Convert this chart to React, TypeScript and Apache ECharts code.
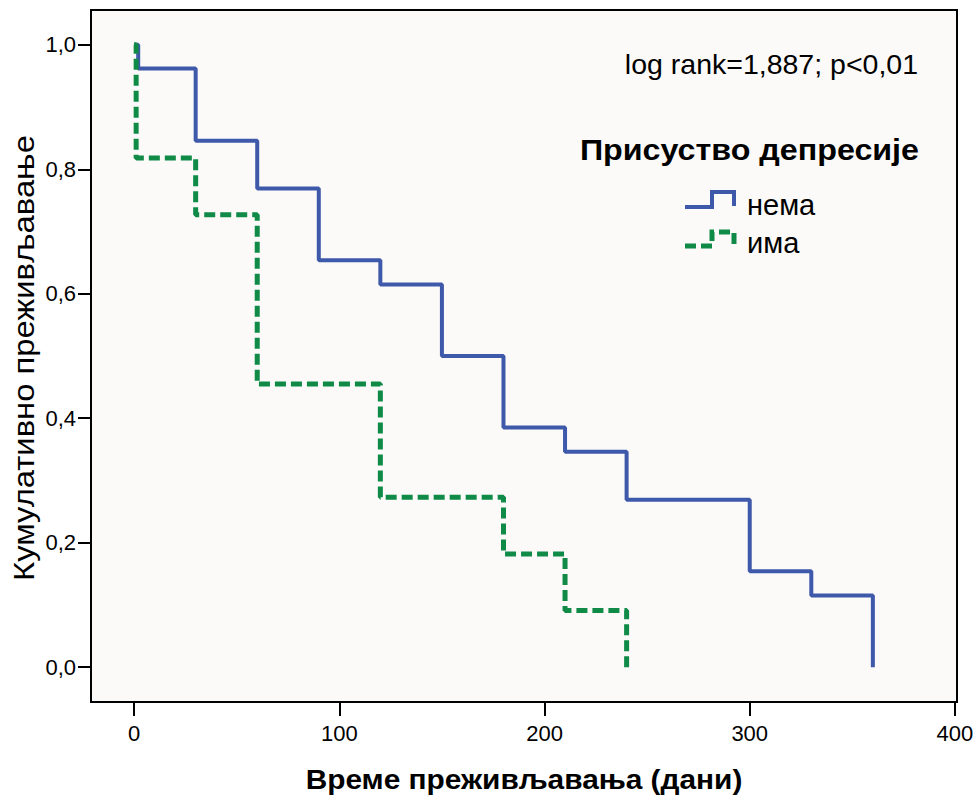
import React, { useEffect, useRef } from "react";
import * as echarts from "echarts";

// Kaplan–Meier survival estimates (time in days, cumulative survival)
const noneTimes = [0, 2, 30, 60, 90, 120, 150, 180, 210, 240, 300, 330, 360];
const noneSurvival = [1, 0.962, 0.846, 0.769, 0.654, 0.615, 0.5, 0.385, 0.346, 0.269, 0.154, 0.115, 0];

const presentTimes = [0, 1, 30, 60, 120, 180, 210, 240];
const presentSurvival = [1, 0.818, 0.727, 0.455, 0.273, 0.182, 0.091, 0];

const xTicks = [0, 100, 200, 300, 400];
const yTicks = [0, 0.2, 0.4, 0.6, 0.8, 1.0];

const groupNames = ["нема", "има"];
const legendTitle = "Присуство депресије";
const statText = "log rank=1,887; p<0,01";
const xTitle = "Време преживљавања (дани)";
const yTitle = "Кумулативно преживљавање";

const BLUE = "#3f59aa";
const GREEN = "#0f8a47";
const FONT = "'Liberation Sans', Arial, sans-serif";

export default function App() {
  const ref = useRef<HTMLDivElement>(null);

  useEffect(() => {
    if (!ref.current) return;
    const chart = echarts.init(ref.current, null, { renderer: "svg" });

    const pairs = (t: number[], v: number[]) => t.map((x, i) => [x, v[i]]);

    chart.setOption({
      animation: false,
      backgroundColor: "#ffffff",
      grid: {
        left: 91,
        top: 10,
        right: 22,
        bottom: 100,
        show: true,
        backgroundColor: "#fbfaf8",
        borderColor: "#000000",
        borderWidth: 2,
      },
      xAxis: {
        type: "value",
        min: -21,
        max: 401,
        axisLine: { show: false, onZero: false },
        splitLine: { show: false },
        axisTick: {
          show: true,
          length: 14,
          customValues: xTicks,
          lineStyle: { color: "#000", width: 2 },
        },
        axisLabel: {
          customValues: xTicks,
          margin: 20,
          fontSize: 22,
          color: "#000",
          fontFamily: FONT,
        },
      },
      yAxis: {
        type: "value",
        min: -0.056,
        max: 1.056,
        axisLine: { show: false, onZero: false },
        splitLine: { show: false },
        axisTick: {
          show: true,
          length: 13,
          customValues: yTicks,
          lineStyle: { color: "#000", width: 2 },
        },
        axisLabel: {
          customValues: yTicks,
          margin: 15,
          fontSize: 22,
          color: "#000",
          fontFamily: FONT,
          formatter: (v: number) => v.toFixed(1).replace(".", ","),
        },
      },
      series: [
        {
          name: groupNames[0],
          type: "line",
          step: "end",
          symbol: "none",
          data: pairs(noneTimes, noneSurvival),
          lineStyle: { color: BLUE, width: 4 },
          z: 2,
        },
        {
          name: groupNames[1],
          type: "line",
          step: "end",
          symbol: "none",
          data: pairs(presentTimes, presentSurvival),
          lineStyle: { color: GREEN, width: 5, type: [11, 5] },
          z: 3,
        },
      ],
      graphic: [
        {
          type: "text",
          x: 918,
          y: 64,
          style: {
            text: statText,
            font: `28.5px ${FONT}`,
            fill: "#000",
            textAlign: "right",
            textVerticalAlign: "middle",
          },
        },
        {
          type: "text",
          x: 919,
          y: 150,
          scaleX: 1.075,
          style: {
            text: legendTitle,
            font: `bold 30px ${FONT}`,
            fill: "#000",
            textAlign: "right",
            textVerticalAlign: "middle",
          },
        },
        {
          type: "polyline",
          shape: { points: [[685, 207], [712, 207], [712, 192], [734, 192], [734, 206]] },
          style: { stroke: BLUE, lineWidth: 4, fill: null },
        },
        {
          type: "text",
          x: 747,
          y: 205,
          style: {
            text: groupNames[0],
            font: `29px ${FONT}`,
            fill: "#000",
            textAlign: "left",
            textVerticalAlign: "middle",
          },
        },
        {
          type: "polyline",
          shape: { points: [[685, 246], [712, 246], [712, 232], [734, 232], [734, 244]] },
          style: { stroke: GREEN, lineWidth: 5, fill: null, lineDash: [11, 5] },
        },
        {
          type: "text",
          x: 747,
          y: 243,
          style: {
            text: groupNames[1],
            font: `29px ${FONT}`,
            fill: "#000",
            textAlign: "left",
            textVerticalAlign: "middle",
          },
        },
        {
          type: "text",
          x: 524,
          y: 780,
          scaleX: 1.105,
          style: {
            text: xTitle,
            font: `bold 27px ${FONT}`,
            fill: "#000",
            textAlign: "center",
            textVerticalAlign: "middle",
          },
        },
        {
          type: "text",
          x: 24,
          y: 358,
          rotation: Math.PI / 2,
          scaleX: 1.13,
          style: {
            text: yTitle,
            font: `29px ${FONT}`,
            fill: "#000",
            textAlign: "center",
            textVerticalAlign: "middle",
          },
        },
      ],
    });

    return () => chart.dispose();
  }, []);

  return (
    <div
      ref={ref}
      style={{ position: "fixed", left: 0, top: 0, width: 979, height: 802 }}
    />
  );
}
